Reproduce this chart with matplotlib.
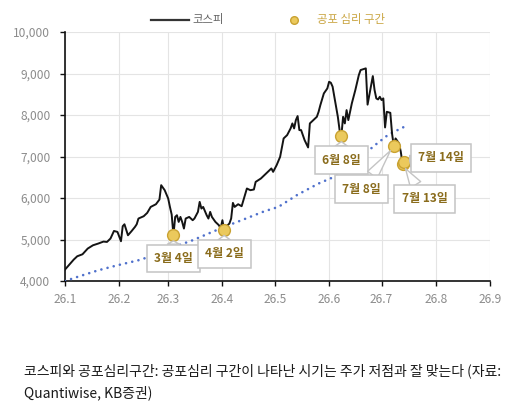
import matplotlib
matplotlib.use("Agg")
import matplotlib.pyplot as plt
from matplotlib.ticker import FuncFormatter
from matplotlib.lines import Line2D
import pandas as pd

plt.rcParams['font.family'] = ['Noto Sans CJK KR', 'DejaVu Sans']

# ---- data ----
kospi_dates = [
    "2026-01-01", "2026-01-06", "2026-01-08", "2026-01-11", "2026-01-14", "2026-01-17",
    "2026-01-20", "2026-01-23", "2026-01-25", "2026-01-27", "2026-01-29", "2026-01-31",
    "2026-02-02", "2026-02-03", "2026-02-04", "2026-02-06", "2026-02-08", "2026-02-10",
    "2026-02-11", "2026-02-12", "2026-02-15", "2026-02-17", "2026-02-19", "2026-02-22",
    "2026-02-24", "2026-02-25", "2026-02-27", "2026-03-01", "2026-03-02", "2026-03-03",
    "2026-03-04", "2026-03-05", "2026-03-06", "2026-03-07", "2026-03-08", "2026-03-09",
    "2026-03-10", "2026-03-11", "2026-03-13", "2026-03-15", "2026-03-16", "2026-03-18",
    "2026-03-19", "2026-03-20", "2026-03-21", "2026-03-23", "2026-03-24", "2026-03-25",
    "2026-03-26", "2026-03-28", "2026-03-30", "2026-03-31", "2026-04-01", "2026-04-02",
    "2026-04-03", "2026-04-05", "2026-04-06", "2026-04-07", "2026-04-08", "2026-04-10",
    "2026-04-12", "2026-04-15", "2026-04-17", "2026-04-19", "2026-04-20", "2026-04-23",
    "2026-04-26", "2026-04-29", "2026-04-30", "2026-05-02", "2026-05-04", "2026-05-06",
    "2026-05-08", "2026-05-10", "2026-05-11", "2026-05-12", "2026-05-13", "2026-05-14",
    "2026-05-15", "2026-05-16", "2026-05-18", "2026-05-20", "2026-05-21", "2026-05-23",
    "2026-05-25", "2026-05-26", "2026-05-27", "2026-05-29", "2026-05-31", "2026-06-01",
    "2026-06-02", "2026-06-03", "2026-06-04", "2026-06-06", "2026-06-07", "2026-06-08",
    "2026-06-09", "2026-06-10", "2026-06-11", "2026-06-12", "2026-06-14", "2026-06-16",
    "2026-06-18", "2026-06-19", "2026-06-21", "2026-06-22", "2026-06-23", "2026-06-26",
    "2026-06-27", "2026-06-28", "2026-06-29", "2026-06-30", "2026-07-01", "2026-07-02",
    "2026-07-03", "2026-07-04", "2026-07-06", "2026-07-07", "2026-07-08", "2026-07-09",
    "2026-07-11", "2026-07-12", "2026-07-13", "2026-07-14",
]
kospi_values = [
    4275, 4516, 4596, 4644, 4782, 4861,
    4902, 4950, 4941, 5023, 5206, 5183,
    4958, 5320, 5367, 5102, 5199, 5303,
    5367, 5505, 5561, 5641, 5785, 5850,
    5963, 6309, 6188, 5988, 5785, 5600,
    5100, 5544, 5585, 5424, 5544, 5424,
    5264, 5505, 5544, 5465, 5505, 5665,
    5906, 5746, 5785, 5585, 5505, 5665,
    5544, 5424, 5344, 5264, 5465, 5230,
    5303, 5385, 5505, 5882, 5785, 5850,
    5802, 6229, 6188, 6205, 6388, 6470,
    6591, 6712, 6630, 6791, 6992, 7435,
    7515, 7677, 7797, 7677, 7877, 7974,
    7636, 7636, 7394, 7218, 7797, 7877,
    7957, 8077, 8238, 8520, 8641, 8801,
    8777, 8683, 8439, 7957, 7636, 7490,
    7957, 7797, 8118, 7877, 8280, 8601,
    8962, 9083, 9110, 9124, 8250, 8938,
    8601, 8399, 8375, 8439, 8360, 8400,
    7700, 8077, 8053, 7550, 7250, 7435,
    7315, 7112, 6820, 6870,
]

trend_dates = [
    "2026-01-01", "2026-01-08", "2026-01-20", "2026-01-31", "2026-02-12", "2026-02-21",
    "2026-03-07", "2026-03-15", "2026-03-24", "2026-04-02", "2026-04-12", "2026-04-25",
    "2026-05-03", "2026-05-14", "2026-05-26", "2026-06-05", "2026-06-16", "2026-06-26",
    "2026-07-05", "2026-07-14",
]
trend_values = [
    4000, 4097, 4258, 4379, 4500, 4620,
    4861, 4982, 5143, 5303, 5465, 5680,
    5785, 6080, 6349, 6530, 6832, 7233,
    7530, 7716,
]

fear_dates = ["2026-03-04", "2026-04-02", "2026-06-08", "2026-07-08", "2026-07-13", "2026-07-14"]
fear_values = [5100, 5230, 7490, 7250, 6820, 6870]
fear_labels = ["3월 4일", "4월 2일", "6월 8일", "7월 8일", "7월 13일", "7월 14일"]

month_ticks = ["2026-01-01", "2026-02-01", "2026-03-01", "2026-04-01", "2026-05-01",
               "2026-06-01", "2026-07-01", "2026-08-01", "2026-09-01"]
month_labels = ["26.1", "26.2", "26.3", "26.4", "26.5", "26.6", "26.7", "26.8", "26.9"]
y_ticks = [4000, 5000, 6000, 7000, 8000, 9000, 10000]

legend_labels = ["코스피", "공포 심리 구간"]
caption_line1 = "코스피와 공포심리구간: 공포심리 구간이 나타난 시기는 주가 저점과 잘 맞는다 (자료:"
caption_line2 = "Quantiwise, KB증권)"

# ---- style ----
GOLD_FILL = "#ebc95c"
GOLD_EDGE = "#c9a232"
GOLD_TEXT = "#8a6c1c"
LEGEND_GOLD = "#c9a440"
TICK_GRAY = "#8c8c8c"
BLUE = "#5071cc"

fig = plt.figure(figsize=(5.26, 4.17), dpi=100)
ax = fig.add_axes([65 / 526, 1 - 281 / 417, (490 - 65) / 526, (281 - 32) / 417])

kd = pd.to_datetime(kospi_dates)
td = pd.to_datetime(trend_dates)
fd = pd.to_datetime(fear_dates)

ax.plot(td, trend_values, color=BLUE, linestyle=(0, (0.01, 2.4)), linewidth=1.9,
        dash_capstyle='round', zorder=3)
ax.plot(kd, kospi_values, color="#141414", linewidth=1.4, zorder=4)
ax.plot(fd, fear_values, linestyle='none', marker='o', markersize=8.5,
        markerfacecolor=GOLD_FILL, markeredgecolor=GOLD_EDGE, markeredgewidth=1.0, zorder=6)

offsets = [(0, -23), (0, -24), (0, -24), (-32, -43), (22, -35), (37, 4)]
for d, v, lab, off in zip(fd, fear_values, fear_labels, offsets):
    ax.annotate(lab, xy=(d, v), xytext=off, textcoords='offset pixels',
                ha='center', va='center', fontsize=8.6, fontweight='bold', color=GOLD_TEXT,
                bbox=dict(boxstyle='square,pad=0.6', fc='white', ec='#c4c4c4', lw=1.1),
                arrowprops=dict(arrowstyle='wedge,tail_width=1.0,shrink_factor=0.5',
                                fc='white', ec='#c4c4c4', lw=1.0,
                                shrinkA=0, shrinkB=4),
                zorder=7)

ax.set_xlim(pd.Timestamp(month_ticks[0]), pd.Timestamp(month_ticks[-1]))
ax.set_ylim(y_ticks[0], y_ticks[-1])
ax.set_xticks(pd.to_datetime(month_ticks))
ax.set_xticklabels(month_labels)
ax.set_yticks(y_ticks)
ax.yaxis.set_major_formatter(FuncFormatter(lambda v, p: f"{int(v):,}"))

ax.grid(True, color="#e4e4e4", linewidth=0.8)
ax.set_axisbelow(True)
for s in ['top', 'right']:
    ax.spines[s].set_visible(False)
ax.spines['left'].set_color('#111111')
ax.spines['bottom'].set_color('#111111')
ax.spines['left'].set_linewidth(1.2)
ax.spines['bottom'].set_linewidth(1.2)
ax.tick_params(axis='both', colors='#111111', labelcolor=TICK_GRAY, labelsize=8.6,
               length=3.5, width=1)
ax.tick_params(axis='x', pad=5)
ax.tick_params(axis='y', pad=7)

handles = [
    Line2D([], [], color="#333333", linewidth=1.6),
    Line2D([], [], linestyle='none', marker='o', markersize=5.5,
           markerfacecolor=GOLD_FILL, markeredgecolor=GOLD_EDGE, markeredgewidth=1.0),
]
fig.legend(handles, legend_labels, loc='center', bbox_to_anchor=(268 / 526, 1 - 20 / 417),
           ncol=2, frameon=False, fontsize=8.2, handlelength=3.3, columnspacing=4.5,
           handletextpad=0.35, labelcolor=["#666666", LEGEND_GOLD])

fig.text(24 / 526, 1 - 371 / 417, caption_line1, fontsize=10, color="#1a1a1a",
         ha='left', va='center')
fig.text(24 / 526, 1 - 393 / 417, caption_line2, fontsize=10, color="#1a1a1a",
         ha='left', va='center')

fig.savefig("out.png", dpi=100)
